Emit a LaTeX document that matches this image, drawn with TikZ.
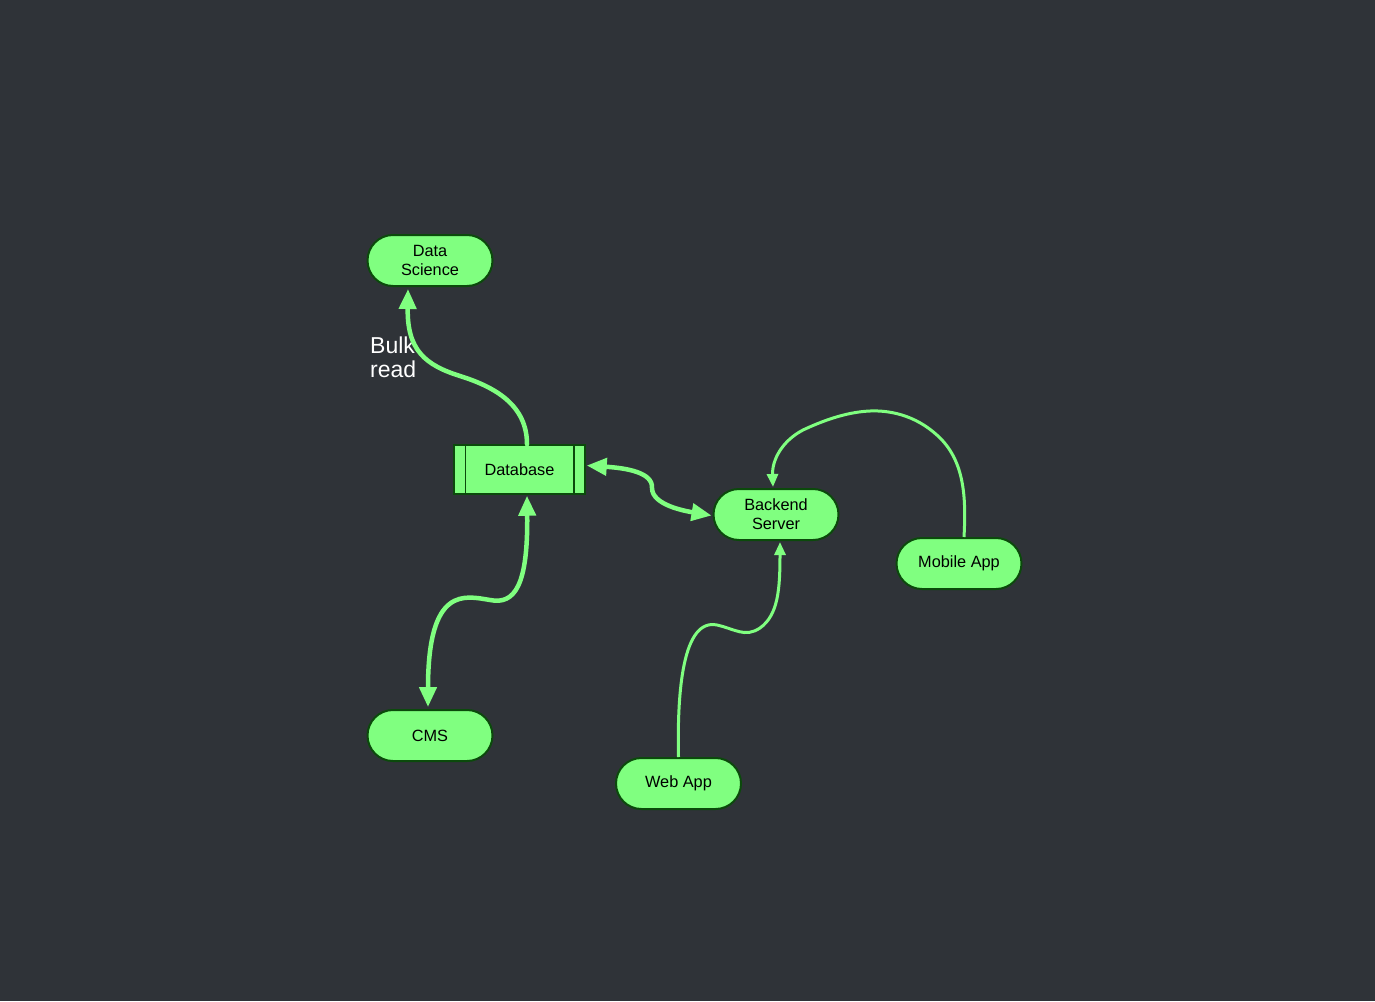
\documentclass[tikz,border=0pt]{standalone}
\usepackage{fontspec}
\setmainfont{Liberation Sans}
\usetikzlibrary{arrows.meta,calc,shapes.misc}
\definecolor{bgcol}{HTML}{2F3338}
\definecolor{nodefill}{HTML}{80FF80}
\definecolor{nodeline}{HTML}{0B4A0B}
\definecolor{linkcol}{HTML}{80FF80}
\tikzset{
  term/.style={rounded rectangle, draw=nodeline, fill=nodefill, line width=2pt,
    minimum width=125pt, minimum height=51pt, inner sep=0pt, align=center,
    font=\fontsize{16.3}{19}\selectfont, text=black},
  store/.style={rectangle, draw=nodeline, fill=nodefill, line width=1.5pt,
    minimum width=131pt, minimum height=49pt, inner sep=0pt, align=center,
    font=\fontsize{16.3}{19}\selectfont, text=black},
  heavy/.style={draw=linkcol, line width=4.5pt, line cap=round,
    arrows={-Triangle[length=20pt,width=17pt]}},
  heavyboth/.style={draw=linkcol, line width=4.5pt,
    arrows={Triangle[length=20pt,width=17pt]-Triangle[length=20pt,width=17pt]}},
  light/.style={draw=linkcol, line width=3pt,
    arrows={-Triangle[length=13pt,width=11pt]}},
  tag/.style={text=white, align=left, font=\fontsize{23}{24}\selectfont, inner sep=0pt}
}
\begin{document}
\begin{tikzpicture}[x=1pt,y=-1pt]
  \fill[bgcol] (0,0) rectangle (1375,1001);
  \useasboundingbox (0,0) rectangle (1375,1001);

  % nodes
  \node[term] (ds) at (430,260.5) {Data\\Science};
  \node[store] (db) at (519.5,469.5) {Database};
  \draw[nodeline, line width=1.5pt]
    ($(db.north west)+(12,0)$) -- ($(db.south west)+(12,0)$)
    ($(db.north east)+(-12,0)$) -- ($(db.south east)+(-12,0)$);
  \node[term] (be) at (776,514.5) {Backend\\Server};
  \node[term] (mob) at (959,563.5) {Mobile App};
  \node[term] (cms) at (430,735.5) {CMS};
  \node[term] (web) at (678.5,783.5) {Web App};

  % label
  \node[tag, anchor=north west] (bulk) at (370,337) {Bulk\\read};

  % connectors
  \draw[heavy] ($(db.north)+(7.5,0)$)
    .. controls (527,405) and (495,387) .. (460,376)
    .. controls (425,365) and (407,350) .. ($(ds.south)+(-22,2)$);

  \draw[heavyboth] ($(db.east)+(1,-4)$)
    .. controls (625,468) and (653,472) .. (652,488)
    .. controls (652,505) and (685,511) .. ($(be.west)+(-1,1)$);

  \draw[heavyboth] ($(db.south)+(7.5,1)$)
    .. controls (528,585) and (515,605) .. (490,600)
    .. controls (465,596) and (428,585) .. ($(cms.north)+(-2,-2)$);

  \draw[light] (web.north)
    .. controls (677,690) and (683,618) .. (717,625)
    .. controls (735,629) and (745,638) .. (760,628)
    .. controls (778,615) and (780,590) .. ($(be.south)+(4,1)$);

  \draw[light] ($(mob.north)+(5,0)$)
    .. controls (966,500) and (965,465) .. (942,440)
    .. controls (920,417) and (893,410) .. (870,411)
    .. controls (845,412) and (820,422) .. (803,430)
    .. controls (782,441) and (772,460) .. ($(be.north)+(-3,-1)$);
\end{tikzpicture}
\end{document}
